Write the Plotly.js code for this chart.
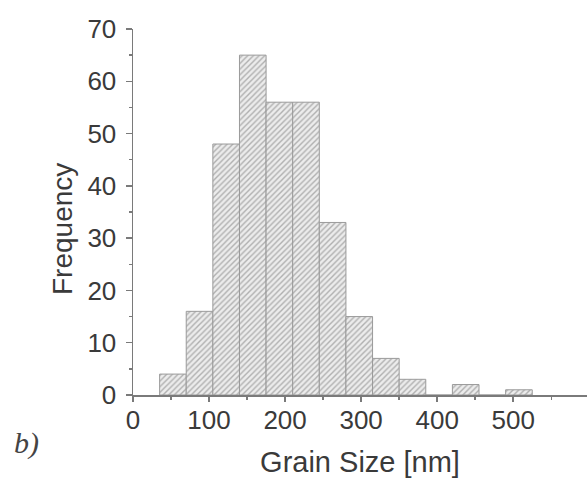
<!DOCTYPE html>
<html>
<head>
<meta charset="utf-8">
<script src="https://cdn.plot.ly/plotly-3.0.1.min.js"></script>
<style>html,body{margin:0;padding:0;background:#fff;}#chart{width:587px;height:482px;}</style>
</head>
<body>
<div id="chart"></div>
<script>
// Bin centres (nm), bin width 35 nm
const binCenters = [52.5, 87.5, 122.5, 157.5, 192.5, 227.5, 262.5, 297.5, 332.5, 367.5, 402.5, 437.5, 472.5, 507.5];
const frequency  = [4, 16, 48, 65, 56, 56, 33, 15, 7, 3, 0, 2, 0, 1];
const xTickVals  = [0, 100, 200, 300, 400, 500];
const yTickVals  = [0, 10, 20, 30, 40, 50, 60, 70];

const axisColor = '#7a7a7a';
const textColor = '#3a3a3a';
const sans = "'Liberation Sans', Arial, Helvetica, sans-serif";

const trace = {
  type: 'bar',
  x: binCenters,
  y: frequency,
  width: 35,
  marker: {
    color: '#e4e4e4',
    line: {color: '#9a9a9a', width: 1},
    pattern: {shape: '/', fgcolor: '#b0b0b0', bgcolor: '#ececec', size: 4, solidity: 0.35}
  },
  hoverinfo: 'x+y'
};

const layout = {
  width: 587, height: 482,
  margin: {l: 133, r: 0, t: 29, b: 87},
  paper_bgcolor: '#ffffff', plot_bgcolor: '#ffffff',
  showlegend: false,
  bargap: 0,
  font: {family: sans, color: textColor},
  xaxis: {
    range: [0, 597],
    tickvals: xTickVals,
    ticks: 'outside', ticklen: 5, tickwidth: 1.5, tickcolor: axisColor,
    minor: {dtick: 50, tick0: 0, ticks: 'outside', ticklen: 3, tickcolor: axisColor},
    showline: true, linecolor: axisColor, linewidth: 1.5,
    showgrid: false, zeroline: false,
    tickfont: {size: 26, family: sans, color: textColor},
    ticklabelstandoff: -4,
    title: {text: 'Grain Size [nm]', font: {size: 29, family: sans, color: textColor}, standoff: 18}
  },
  yaxis: {
    range: [0, 70],
    tickvals: yTickVals,
    ticks: 'outside', ticklen: 6, tickwidth: 1.5, tickcolor: axisColor,
    minor: {dtick: 5, tick0: 0, ticks: 'outside', ticklen: 3, tickcolor: axisColor},
    showline: true, linecolor: axisColor, linewidth: 1.5,
    showgrid: false, zeroline: false,
    tickfont: {size: 26, family: sans, color: textColor},
    ticklabelstandoff: 4
  },
  annotations: [
    {text: 'Frequency', textangle: -90, xref: 'paper', yref: 'paper',
     x: 0, y: 0.5, xanchor: 'center', yanchor: 'middle', xshift: -71, yshift: -17,
     showarrow: false, font: {size: 28, family: sans, color: textColor}},
    {text: '<i>b)</i>', xref: 'paper', yref: 'paper', x: 0, y: 0,
     xanchor: 'center', yanchor: 'middle', xshift: -107, yshift: -48,
     showarrow: false, font: {size: 30, family: "'Liberation Serif', 'Times New Roman', serif", color: '#444'}}
  ]
};

Plotly.newPlot('chart', [trace], layout, {displayModeBar: false, staticPlot: true});
</script>
</body>
</html>
